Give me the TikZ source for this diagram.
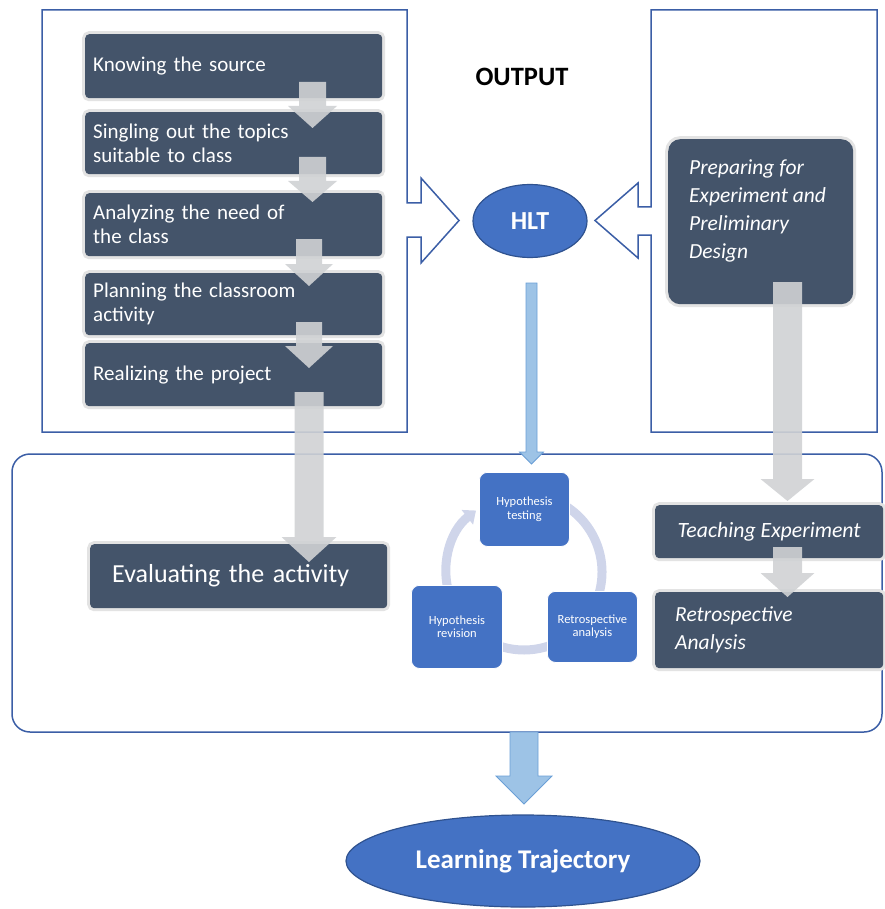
\documentclass[tikz,border=0pt]{standalone}
\usepackage{fontspec}
\setmainfont{Carlito}
\usetikzlibrary{shapes.geometric,arrows.meta}
\definecolor{slate}{HTML}{44546A}
\definecolor{glow}{HTML}{E3E3E3}
\definecolor{agray}{HTML}{D0D2D4}
\definecolor{hltblue}{HTML}{4472C4}
\definecolor{hltborder}{HTML}{2F528F}
\definecolor{lblue}{HTML}{9DC3E6}
\definecolor{lbborder}{HTML}{6A9FD6}
\definecolor{ringcol}{HTML}{CFD5EA}
\definecolor{framecol}{HTML}{3B5EA6}
\newcommand\blockarrow[7][]{%
  \path[#1] (#2-#6,#3) -- (#2+#6,#3) -- (#2+#6,#4) -- (#2+#7,#4) -- (#2,#5)
    -- (#2-#7,#4) -- (#2-#6,#4) -- cycle;}
\tikzset{
  darkbox/.style={rectangle, rounded corners=4pt, fill=slate,
    preaction={draw=glow, line width=6pt}, text=white, align=left,
    inner ysep=0pt, anchor=north west},
  leftbox/.style={darkbox, minimum width=297, text width=281, inner xsep=8pt,
    font=\fontsize{21}{24}\selectfont},
  cyclebox/.style={rectangle, rounded corners=8pt, fill=hltblue, draw=white,
    line width=0.8pt, text=white, align=center, anchor=north west,
    font=\fontsize{12.5}{13.5}\selectfont, inner sep=2pt},
  framelines/.style={draw=framecol, line width=1.5pt, fill=white},
  grayarrow/.style={fill=agray, fill opacity=0.9},
  bluearrow/.style={fill=lblue, draw=lbborder, line width=0.8pt},
  ringarc/.style={draw=ringcol, line width=9pt},
  blueoval/.style={ellipse, fill=hltblue, draw=hltborder, line width=1.2pt,
    text=white, inner sep=0pt, font=\bfseries}
}
\begin{document}
\begin{tikzpicture}[x=1pt,y=-1pt]
\useasboundingbox (0,0) rectangle (884,909);
% containers with hollow arrows
\path[framelines] (407,203) -- (407,10) -- (42,10) -- (42,432) -- (407,432)
  -- (407,237) -- (421,237) -- (421,263) -- (459,220.5) -- (421,178)
  -- (421,203) -- cycle;
\path[framelines] (651,207) -- (651,10) -- (877,10) -- (877,432) -- (651,432)
  -- (651,235) -- (638,235) -- (638,258) -- (595,220.5) -- (638,183)
  -- (638,207) -- cycle;
\draw[draw=framecol, line width=1.5pt, rounded corners=18pt] (12,454) rectangle (882,732);
% title
\node[font=\fontsize{26.5}{30}\selectfont\bfseries] (out) at (522,77) {OUTPUT};
% left column
\node[leftbox, minimum height=64] (k1) at (85,34) {Knowing the source};
\node[leftbox, minimum height=62] (k2) at (85,112) {Singling out the topics\\suitable to class};
\node[leftbox, minimum height=63] (k3) at (85,193) {Analyzing the need of\\the class};
\node[leftbox, minimum height=62] (k4) at (85,273) {Planning the classroom\\activity};
\node[leftbox, minimum height=63] (k5) at (85,343) {Realizing the project};
\node[darkbox, minimum width=297, minimum height=64, text width=253, inner xsep=22pt,
  font=\fontsize{26}{30}\selectfont] (ev) at (90,544) {Evaluating the activity};
% HLT
\node[blueoval, minimum width=114, minimum height=73, font=\fontsize{26}{30}\selectfont\bfseries] (hlt) at (530,221) {HLT};
% right column
\node[darkbox, rounded corners=12pt, minimum width=185, minimum height=165] (prep) at (668,139) {};
\node[anchor=north west, inner sep=0pt, text=white, align=left,
  font=\fontsize{21.5}{28}\selectfont\itshape] (preptext) at (689,160)
  {Preparing for\\Experiment and\\Preliminary\\Design};
\node[darkbox, minimum width=228, minimum height=53, align=center,
  font=\fontsize{21.8}{24}\selectfont\itshape] (te) at (655,505) {Teaching Experiment};
\node[darkbox, minimum width=228, minimum height=76, text width=188, inner xsep=20pt,
  font=\fontsize{21.5}{28}\selectfont\itshape] (ra) at (655,592) {Retrospective\\Analysis};
% cycle
\draw[ringarc] (524,572) ++(-60:78) arc[start angle=-60, end angle=20, radius=78];
\draw[ringarc] (524,572) ++(60:78) arc[start angle=60, end angle=120, radius=78];
\draw[ringarc, -{Triangle[width=18pt,length=11pt]}] (524,572) ++(160:78)
  arc[start angle=160, end angle=232, radius=78];
\node[cyclebox, minimum width=90, minimum height=74] (test) at (479,472) {Hypothesis\\testing};
\node[cyclebox, minimum width=91, minimum height=83] (rev) at (411,585) {Hypothesis\\revision};
\node[cyclebox, minimum width=90, minimum height=71] (retro) at (547,591) {Retrospective\\analysis};
% Learning trajectory
\node[blueoval, minimum width=354, minimum height=92, font=\fontsize{27}{30}\selectfont\bfseries] (lt) at (523,861) {Learning Trajectory};
% gray block arrows
\blockarrow[grayarrow]{312.5}{82}{106}{128}{13.5}{24.5}
\blockarrow[grayarrow]{312.5}{157}{181}{202}{13.5}{24.5}
\blockarrow[grayarrow]{309}{239}{264}{286}{13}{24}
\blockarrow[grayarrow]{309}{322}{346}{368}{13}{24}
\blockarrow[grayarrow]{309}{392}{537}{562}{14.5}{27.5}
\blockarrow[grayarrow]{787.5}{282}{479}{501}{14.5}{27}
\blockarrow[grayarrow]{787.5}{547}{573}{597}{14.5}{27}
% blue arrows
\blockarrow[bluearrow]{531.5}{283}{452}{464}{5.5}{12}
\blockarrow[bluearrow]{524}{732}{776}{804}{14}{28}
\end{tikzpicture}
\end{document}
